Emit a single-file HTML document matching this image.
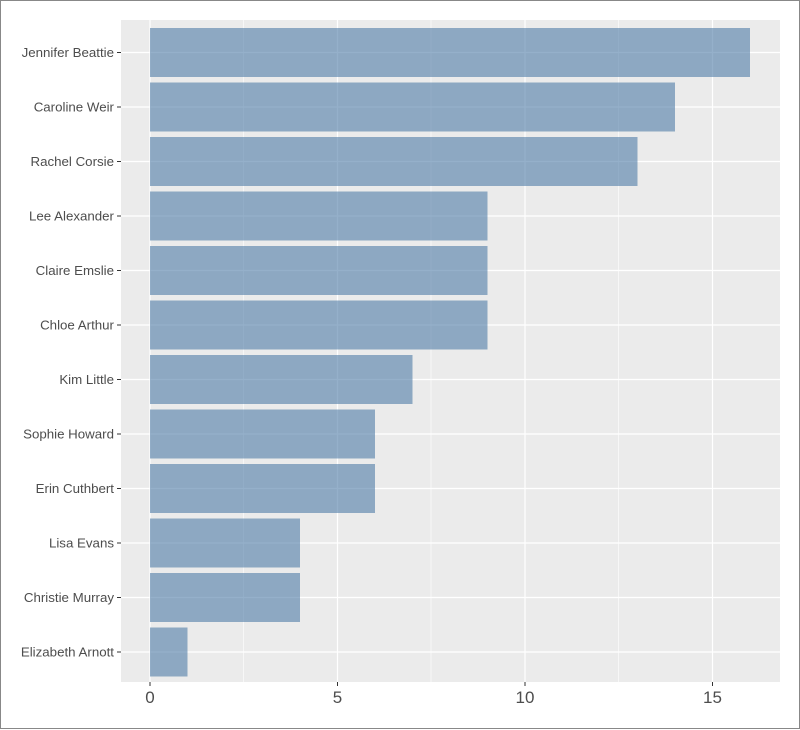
<!DOCTYPE html>
<html><head><style>
html,body{margin:0;padding:0;background:#fff}
svg{display:block}
text{font-family:"Liberation Sans",sans-serif}
</style></head><body>
<svg width="800" height="730" viewBox="0 0 800 730">
<rect x="0.5" y="0.5" width="799" height="728" fill="#fff" stroke="#888"/>
<rect x="121" y="20" width="659" height="662" fill="#ebebeb"/>
<g stroke="#fff" stroke-width="0.6">
<line x1="243.5" y1="20" x2="243.5" y2="682"/><line x1="431" y1="20" x2="431" y2="682"/><line x1="618.5" y1="20" x2="618.5" y2="682"/>
</g>
<g stroke="#fff" stroke-width="1.2">
<line x1="150" y1="20" x2="150" y2="682"/><line x1="337.5" y1="20" x2="337.5" y2="682"/><line x1="525" y1="20" x2="525" y2="682"/><line x1="712.5" y1="20" x2="712.5" y2="682"/>
<line x1="121" y1="52.5" x2="780" y2="52.5"/><line x1="121" y1="107" x2="780" y2="107"/><line x1="121" y1="161.5" x2="780" y2="161.5"/><line x1="121" y1="216" x2="780" y2="216"/><line x1="121" y1="270.5" x2="780" y2="270.5"/><line x1="121" y1="325" x2="780" y2="325"/><line x1="121" y1="379.5" x2="780" y2="379.5"/><line x1="121" y1="434" x2="780" y2="434"/><line x1="121" y1="488.5" x2="780" y2="488.5"/><line x1="121" y1="543" x2="780" y2="543"/><line x1="121" y1="597.5" x2="780" y2="597.5"/><line x1="121" y1="652" x2="780" y2="652"/>
</g>
<g fill="#4f7ba6" fill-opacity="0.6">
<rect x="150" y="28" width="600" height="49"/>
<rect x="150" y="82.5" width="525" height="49"/>
<rect x="150" y="137" width="487.5" height="49"/>
<rect x="150" y="191.5" width="337.5" height="49"/>
<rect x="150" y="246" width="337.5" height="49"/>
<rect x="150" y="300.5" width="337.5" height="49"/>
<rect x="150" y="355" width="262.5" height="49"/>
<rect x="150" y="409.5" width="225" height="49"/>
<rect x="150" y="464" width="225" height="49"/>
<rect x="150" y="518.5" width="150" height="49"/>
<rect x="150" y="573" width="150" height="49"/>
<rect x="150" y="627.5" width="37.5" height="49"/>
</g>
<g stroke="#333" stroke-width="1">
<line x1="117" y1="52.5" x2="121" y2="52.5"/><line x1="117" y1="107" x2="121" y2="107"/><line x1="117" y1="161.5" x2="121" y2="161.5"/><line x1="117" y1="216" x2="121" y2="216"/><line x1="117" y1="270.5" x2="121" y2="270.5"/><line x1="117" y1="325" x2="121" y2="325"/><line x1="117" y1="379.5" x2="121" y2="379.5"/><line x1="117" y1="434" x2="121" y2="434"/><line x1="117" y1="488.5" x2="121" y2="488.5"/><line x1="117" y1="543" x2="121" y2="543"/><line x1="117" y1="597.5" x2="121" y2="597.5"/><line x1="117" y1="652" x2="121" y2="652"/>
<line x1="150" y1="682" x2="150" y2="686"/><line x1="337.5" y1="682" x2="337.5" y2="686"/><line x1="525" y1="682" x2="525" y2="686"/><line x1="712.5" y1="682" x2="712.5" y2="686"/>
</g>
<g fill="#4d4d4d" font-size="13.3" text-anchor="end">
<text x="114" y="57">Jennifer Beattie</text>
<text x="114" y="111.5">Caroline Weir</text>
<text x="114" y="166">Rachel Corsie</text>
<text x="114" y="220.5">Lee Alexander</text>
<text x="114" y="275">Claire Emslie</text>
<text x="114" y="329.5">Chloe Arthur</text>
<text x="114" y="384">Kim Little</text>
<text x="114" y="438.5">Sophie Howard</text>
<text x="114" y="493">Erin Cuthbert</text>
<text x="114" y="547.5">Lisa Evans</text>
<text x="114" y="602">Christie Murray</text>
<text x="114" y="656.5">Elizabeth Arnott</text>
</g>
<g fill="#4d4d4d" font-size="17" text-anchor="middle">
<text x="150" y="703">0</text>
<text x="337.5" y="703">5</text>
<text x="525" y="703">10</text>
<text x="712.5" y="703">15</text>
</g>
</svg>
</body></html>
